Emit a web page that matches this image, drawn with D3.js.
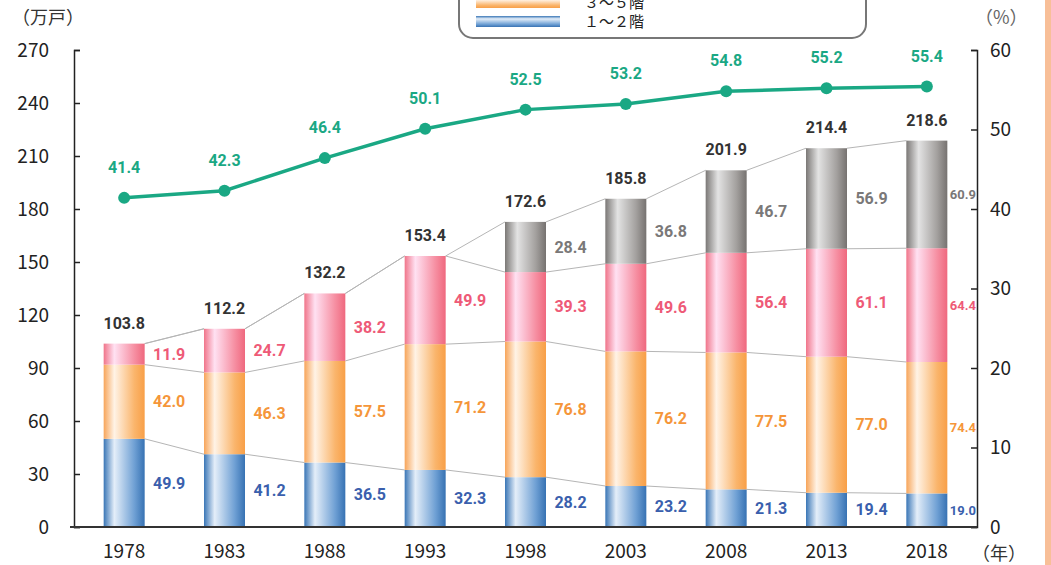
<!DOCTYPE html>
<html>
<head>
<meta charset="utf-8">
<script src="https://cdn.jsdelivr.net/npm/d3@7"></script>
<style>
  body { margin: 0; background: #fff; }
  svg { display: block; font-family: "Noto Sans CJK JP", "DejaVu Sans", sans-serif; }
  .val { font-family: "Liberation Sans Narrow", "Roboto", sans-serif; font-weight: bold; }
</style>
</head>
<body>
<svg id="chart" width="1051" height="565"></svg>
<script>
// data
const years = ["1978", "1983", "1988", "1993", "1998", "2003", "2008", "2013", "2018"];
const floors1to2 = [49.9, 41.2, 36.5, 32.3, 28.2, 23.2, 21.3, 19.4, 19.0];
const floors3to5 = [42.0, 46.3, 57.5, 71.2, 76.8, 76.2, 77.5, 77.0, 74.4];
const floors6to10 = [11.9, 24.7, 38.2, 49.9, 39.3, 49.6, 56.4, 61.1, 64.4];
const floors11up = [0, 0, 0, 0, 28.4, 36.8, 46.7, 56.9, 60.9];
const totals = [103.8, 112.2, 132.2, 153.4, 172.6, 185.8, 201.9, 214.4, 218.6];
const ratio = [41.4, 42.3, 46.4, 50.1, 52.5, 53.2, 54.8, 55.2, 55.4];
const leftTicks = [0, 30, 60, 90, 120, 150, 180, 210, 240, 270];
const rightTicks = [0, 10, 20, 30, 40, 50, 60];

const svg = d3.select("#chart");

const x = d3.scaleBand().domain(years).range([74, 977]);
const y = d3.scaleLinear().domain([0, 270]).range([527, 50]);
const y2 = d3.scaleLinear().domain([0, 60]).range([527, 50]);
const barW = 41;

// gradients for the bars
const series = [
  { key: "b", vals: floors1to2, label: "#3a5fad", stops: [[0, "#3a76b6"], [0.26, "#e4eef9"], [0.75, "#6fa0d4"], [1, "#3772b3"]] },
  { key: "o", vals: floors3to5, label: "#f5963a", stops: [[0, "#f7a55a"], [0.26, "#fff3e6"], [0.75, "#fab56c"], [1, "#f89f47"]] },
  { key: "p", vals: floors6to10, label: "#ee5a77", stops: [[0, "#f0758a"], [0.26, "#ffe1f2"], [0.75, "#f68fa2"], [1, "#ef687e"]] },
  { key: "g", vals: floors11up, label: "#7a7878", stops: [[0, "#7b7876"], [0.3, "#e3e3e3"], [0.75, "#a3a09e"], [1, "#767270"]] }
];

const defs = svg.append("defs");
series.forEach(s => {
  const g = defs.append("linearGradient").attr("id", "grad-" + s.key)
    .attr("x1", 0).attr("x2", 1).attr("y1", 0).attr("y2", 0);
  s.stops.forEach(st => g.append("stop").attr("offset", st[0]).attr("stop-color", st[1]));
});

// stack it up
const rows = years.map((yr, i) => ({ year: yr, b: floors1to2[i], o: floors3to5[i], p: floors6to10[i], g: floors11up[i] }));
const stacked = d3.stack().keys(["b", "o", "p", "g"])(rows);

// connector lines between bars
const cx = yr => x(yr) + x.bandwidth() / 2;
stacked.forEach(layer => {
  for (let i = 0; i < years.length - 1; i++) {
    svg.append("line")
      .attr("x1", cx(years[i]) + barW / 2).attr("y1", y(layer[i][1]))
      .attr("x2", cx(years[i + 1]) - barW / 2).attr("y2", y(layer[i + 1][1]))
      .attr("stroke", "#b5b5b5").attr("stroke-width", 1);
  }
});

// bars
stacked.forEach((layer, li) => {
  svg.append("g").selectAll("rect")
    .data(layer.filter(d => d[1] > d[0]))
    .join("rect")
    .attr("x", d => cx(d.data.year) - barW / 2)
    .attr("width", barW)
    .attr("y", d => y(d[1]))
    .attr("height", d => y(d[0]) - y(d[1]))
    .attr("fill", "url(#grad-" + series[li].key + ")");
});

// segment labels
stacked.forEach((layer, li) => {
  svg.append("g").selectAll("text")
    .data(layer.filter(d => d[1] > d[0]))
    .join("text")
    .attr("class", "val")
    .attr("x", d => d.data.year === "2018" ? cx(d.data.year) + 36 : cx(d.data.year) + 45)
    .attr("y", d => (y(d[0]) + y(d[1])) / 2)
    .attr("dy", "0.35em")
    .attr("text-anchor", "middle")
    .attr("font-size", d => d.data.year === "2018" ? 13 : 16)
    .attr("fill", series[li].label)
    .text(d => (d[1] - d[0]).toFixed(1));
});

// totals
svg.append("g").selectAll("text")
  .data(totals)
  .join("text")
  .attr("class", "val")
  .attr("x", (d, i) => cx(years[i]))
  .attr("y", d => y(d) - 15)
  .attr("text-anchor", "middle")
  .attr("font-size", 16)
  .attr("fill", "#333")
  .text(d => d.toFixed(1));

// axes
const axL = svg.append("g").attr("transform", "translate(74,0)")
  .call(d3.axisRight(y).tickValues(leftTicks).tickSize(6).tickFormat(""));
axL.select(".domain").attr("stroke", "#222").attr("stroke-width", 1.5);
axL.selectAll(".tick line").attr("stroke", "#222").attr("stroke-width", 1.5);

const axR = svg.append("g").attr("transform", "translate(977,0)")
  .call(d3.axisLeft(y2).tickValues(rightTicks).tickSize(6).tickFormat(""));
axR.select(".domain").attr("stroke", "#222").attr("stroke-width", 1.5);
axR.selectAll(".tick line").attr("stroke", "#222").attr("stroke-width", 1.5);

svg.append("line").attr("x1", 70).attr("x2", 977).attr("y1", y(0)).attr("y2", y(0))
  .attr("stroke", "#333").attr("stroke-width", 2);

svg.append("g").selectAll("text").data(leftTicks).join("text")
  .attr("x", 49).attr("y", d => y(d)).attr("dy", "0.35em")
  .attr("text-anchor", "end").attr("font-size", 19).attr("fill", "#222")
  .text(d => d);

svg.append("g").selectAll("text").data(rightTicks).join("text")
  .attr("x", 990).attr("y", d => y2(d)).attr("dy", "0.35em")
  .attr("text-anchor", "start").attr("font-size", 19).attr("fill", "#222")
  .text(d => d);

svg.append("g").selectAll("text").data(years).join("text")
  .attr("x", d => cx(d)).attr("y", 558)
  .attr("text-anchor", "middle").attr("font-size", 19).attr("fill", "#222")
  .text(d => d);

svg.append("text").attr("x", 12).attr("y", 24).attr("font-size", 18).attr("fill", "#333").text("（万戸）");
svg.append("text").attr("x", 975).attr("y", 24).attr("font-size", 18).attr("fill", "#666").text("（%）");
svg.append("text").attr("x", 972).attr("y", 560).attr("font-size", 18).attr("fill", "#333").text("（年）");

// ratio line
svg.append("path")
  .datum(ratio)
  .attr("fill", "none")
  .attr("stroke", "#1aa884")
  .attr("stroke-width", 3.5)
  .attr("d", d3.line().x((d, i) => cx(years[i])).y(d => y2(d)));

svg.append("g").selectAll("circle").data(ratio).join("circle")
  .attr("cx", (d, i) => cx(years[i])).attr("cy", d => y2(d)).attr("r", 6)
  .attr("fill", "#1aa884");

svg.append("g").selectAll("text").data(ratio).join("text")
  .attr("class", "val")
  .attr("x", (d, i) => cx(years[i])).attr("y", d => y2(d) - 25)
  .attr("text-anchor", "middle").attr("font-size", 16).attr("fill", "#1aa884")
  .text(d => d.toFixed(1));

// legend (only the bottom of the box is visible)
const legend = svg.append("g");
legend.append("rect").attr("x", 459).attr("y", -40).attr("width", 407).attr("height", 78)
  .attr("rx", 14).attr("fill", "#fff").attr("stroke", "#777").attr("stroke-width", 2);
const legendItems = [
  { name: "３～５階", grad: "o", y: -3 },
  { name: "１～２階", grad: "b", y: 16 }
];
legendItems.forEach(it => {
  const lg = defs.append("linearGradient").attr("id", "leg-" + it.grad)
    .attr("x1", 0).attr("x2", 0).attr("y1", 0).attr("y2", 1);
  series.find(s => s.key === it.grad).stops.forEach(st => lg.append("stop").attr("offset", st[0]).attr("stop-color", st[1]));
  legend.append("rect").attr("x", 476).attr("y", it.y).attr("width", 84).attr("height", 11)
    .attr("fill", "url(#leg-" + it.grad + ")");
  legend.append("text").attr("x", 584).attr("y", it.y + 6).attr("dy", "0.35em")
    .attr("font-size", 15).attr("fill", "#222").text(it.name);
});

// orange strip on the right edge
svg.append("rect").attr("x", 1045).attr("y", 0).attr("width", 6).attr("height", 565).attr("fill", "#f8bf98");
</script>
</body>
</html>
